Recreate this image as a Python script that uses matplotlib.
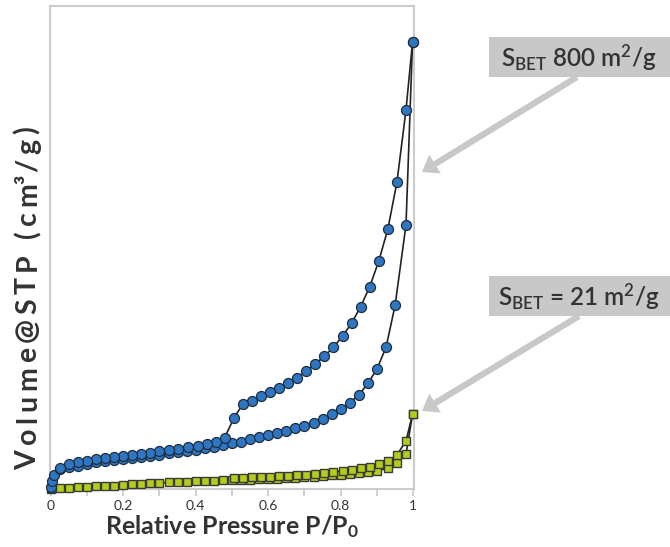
import numpy as np
import matplotlib
matplotlib.use('Agg')
import matplotlib.pyplot as plt
from matplotlib.patches import Rectangle, FancyArrowPatch
from matplotlib.font_manager import FontProperties, findfont, get_font

plt.rcParams['font.family'] = ['Lato', 'DejaVu Sans']
plt.rcParams['mathtext.default'] = 'regular'

# blue sample (S_BET 800 m2/g) - adsorption branch
p_ads_1 = [0.001, 0.004, 0.01, 0.025, 0.05, 0.075, 0.1, 0.125, 0.15, 0.175, 0.2,
           0.225, 0.25, 0.275, 0.3, 0.325, 0.35, 0.375, 0.4, 0.425, 0.45, 0.475,
           0.5, 0.525, 0.55, 0.575, 0.6, 0.625, 0.65, 0.675, 0.7, 0.725, 0.75,
           0.775, 0.8, 0.825, 0.85, 0.875, 0.9, 0.925, 0.95, 0.98, 0.998]
v_ads_1 = [2, 8, 14, 20.5, 22, 23.3, 25, 26.7, 28, 29.3, 30.3, 31.3, 32.3, 33.3,
           34.3, 35.7, 36.7, 37.7, 39, 40.7, 42.3, 44, 45.7, 47.5, 49.7, 51.7,
           54, 56.3, 58.3, 60.7, 63.5, 66.5, 70.3, 75, 80, 86.3, 94, 105.7, 120,
           141.7, 183.7, 264, 446.7]
# blue sample - desorption branch
p_des_1 = [0.998, 0.98, 0.955, 0.93, 0.905, 0.88, 0.855, 0.83, 0.805, 0.78, 0.755,
           0.73, 0.705, 0.68, 0.655, 0.63, 0.605, 0.58, 0.555, 0.53, 0.505, 0.48,
           0.455, 0.43, 0.405, 0.38, 0.35, 0.325, 0.3, 0.275, 0.25, 0.225, 0.2,
           0.175, 0.15, 0.125, 0.1, 0.075, 0.05, 0.025]
v_des_1 = [446.7, 379, 306.7, 260, 228, 202.3, 182.5, 165.7, 153, 141.7, 133, 125,
           117.7, 111.3, 106, 101.3, 96.7, 93, 88.3, 85, 70.7, 51.5, 47.3, 45,
           43.5, 42.3, 40.3, 39, 37.7, 36.3, 35.3, 34.3, 33.3, 32.3, 31.3, 30,
           28.3, 26.7, 24.7, 21.5]

# green sample (S_BET = 21 m2/g) - adsorption branch
p_ads_2 = [0.001, 0.005, 0.025, 0.05, 0.075, 0.1, 0.125, 0.15, 0.175, 0.2, 0.225,
           0.25, 0.275, 0.3, 0.325, 0.35, 0.375, 0.4, 0.425, 0.45, 0.475, 0.5,
           0.525, 0.55, 0.575, 0.6, 0.625, 0.65, 0.675, 0.7, 0.725, 0.75, 0.775,
           0.8, 0.825, 0.85, 0.875, 0.9, 0.93, 0.955, 0.98, 0.998]
v_ads_2 = [0.5, 0.7, 1.1, 1.3, 1.7, 2.3, 2.7, 3, 3.3, 4, 4.7, 5, 5.7, 6, 6.7, 7,
           7.3, 7.7, 8, 8.3, 8.7, 9, 9.2, 9.4, 9.7, 10, 10.4, 10.8, 11.3, 11.7,
           12.3, 13, 13.7, 14.3, 15, 15.7, 17, 18.3, 20.7, 25.7, 35, 74.7]
# green sample - desorption branch
p_des_2 = [0.998, 0.98, 0.955, 0.93, 0.905, 0.88, 0.855, 0.83, 0.805, 0.78, 0.755,
           0.73, 0.705, 0.68, 0.655, 0.63, 0.605, 0.58, 0.555, 0.53, 0.505]
v_des_2 = [74.7, 48, 34, 27.7, 24.7, 22.3, 20.7, 19.3, 18.3, 17.3, 16.3, 15.3,
           14.3, 14, 13.3, 13, 12.3, 12, 11.7, 11.3, 11]

blue = '#2f76c2'
green = '#b4cc1c'
grey_box = '#c8c8c8'
txt = '#333333'
W, H = 670, 547

fig = plt.figure(figsize=(6.7, 5.47), dpi=100)
ax = fig.add_axes([0.0751, 0.106, 0.5433, 0.8825])

for p, v in [(p_ads_2, v_ads_2), (p_des_2, v_des_2)]:
    ax.plot(p, v, '-', color='#222222', lw=1.2, marker='s', ms=6.4,
            mfc=green, mec='#3a3a3a', mew=1.0, zorder=3, clip_on=False)
for p, v in [(p_ads_1, v_ads_1), (p_des_1, v_des_1)]:
    ax.plot(p, v, '-', color='#222222', lw=1.2, marker='o', ms=7.2,
            mfc=blue, mec='#1e2d3d', mew=0.9, zorder=4, clip_on=False)

ax.set_xlim(-0.001, 1.003)
ax.set_ylim(0, 482.7)
ax.set_xticks([0, 0.2, 0.4, 0.6, 0.8, 1])
ax.set_xticklabels(['0', '0.2', '0.4', '0.6', '0.8', '1'])
ax.set_xticks([0.1, 0.3, 0.5, 0.7, 0.9], minor=True)
ax.set_yticks([])
ax.tick_params(axis='x', which='both', direction='out', length=5, width=1.2,
               color='#c8c8c8', labelsize=10, labelcolor=txt, pad=3)
for s in ax.spines.values():
    s.set_color('#cccccc')
    s.set_linewidth(1.5)
    s.set_zorder(1)

fig.text(232 / W, 1 - 527 / H, 'Relative Pressure P/P$_0$', ha='center',
         va='center', fontsize=18, fontweight='bold', color=txt)

# y label: lightly tracked out (per glyph) to span the original's length,
# 'm³' kept together so the superscript sits on its letter
ylab = ['V', 'o', 'l', 'u', 'm', 'e', '@', 'S', 'T', 'P', ' ', '(', 'c', 'm³',
        '/', 'g', ')']
yfs = 20.5
ft = get_font(findfont(FontProperties(family='Lato', weight='bold')))
ft.set_size(yfs, 100)
adv, lsb, gw = [], [], []
for tok in ylab:
    g = ft.load_char(ord(tok[0]))
    a = g.linearHoriAdvance / 65536
    if len(tok) > 1:
        a += 0.6 * a * 0.5
    adv.append(a)
    lsb.append(g.horiBearingX / 64)
    gw.append(g.width / 64)
pen = np.concatenate([[0], np.cumsum(adv[:-1])])
ink0 = lsb[0]
ink1 = pen[-1] + lsb[-1] + gw[-1]
track = (342 - (ink1 - ink0)) / (len(ylab) - 1)
for i, tok in enumerate(ylab):
    if tok == ' ':
        continue
    ypos = H - 470 + pen[i] + i * track + lsb[i] - ink0
    fig.text(36 / W, ypos / H, tok, rotation=90, rotation_mode='anchor',
             ha='left', va='baseline', fontsize=yfs, fontweight='bold',
             color=txt)

# grey label boxes
fig.patches.append(Rectangle((489 / W, 1 - 77 / H), 181 / W, 40 / H,
                             transform=fig.transFigure, fc=grey_box, ec='none'))
fig.patches.append(Rectangle((489 / W, 1 - 316 / H), 181 / W, 40 / H,
                             transform=fig.transFigure, fc=grey_box, ec='none'))
fig.text(579 / W, 1 - 58 / H, 'S$_{BET}$ 800 m$^2$/g', ha='center',
         va='center', fontsize=17.5, fontweight='semibold', color=txt)
fig.text(579 / W, 1 - 297 / H, 'S$_{BET}$ = 21 m$^2$/g', ha='center',
         va='center', fontsize=17.5, fontweight='semibold', color=txt)

arw = 'simple,head_width=1.6,head_length=1.1,tail_width=0.45'
for (x0, y0), (x1, y1) in [((577, 77), (422, 172)), ((579, 316), (422, 411))]:
    fig.patches.append(FancyArrowPatch((x0 / W, 1 - y0 / H), (x1 / W, 1 - y1 / H),
                                       transform=fig.transFigure, arrowstyle=arw,
                                       mutation_scale=10, fc=grey_box, ec='none',
                                       shrinkA=0, shrinkB=0))

fig.savefig('out.png', dpi=100)
